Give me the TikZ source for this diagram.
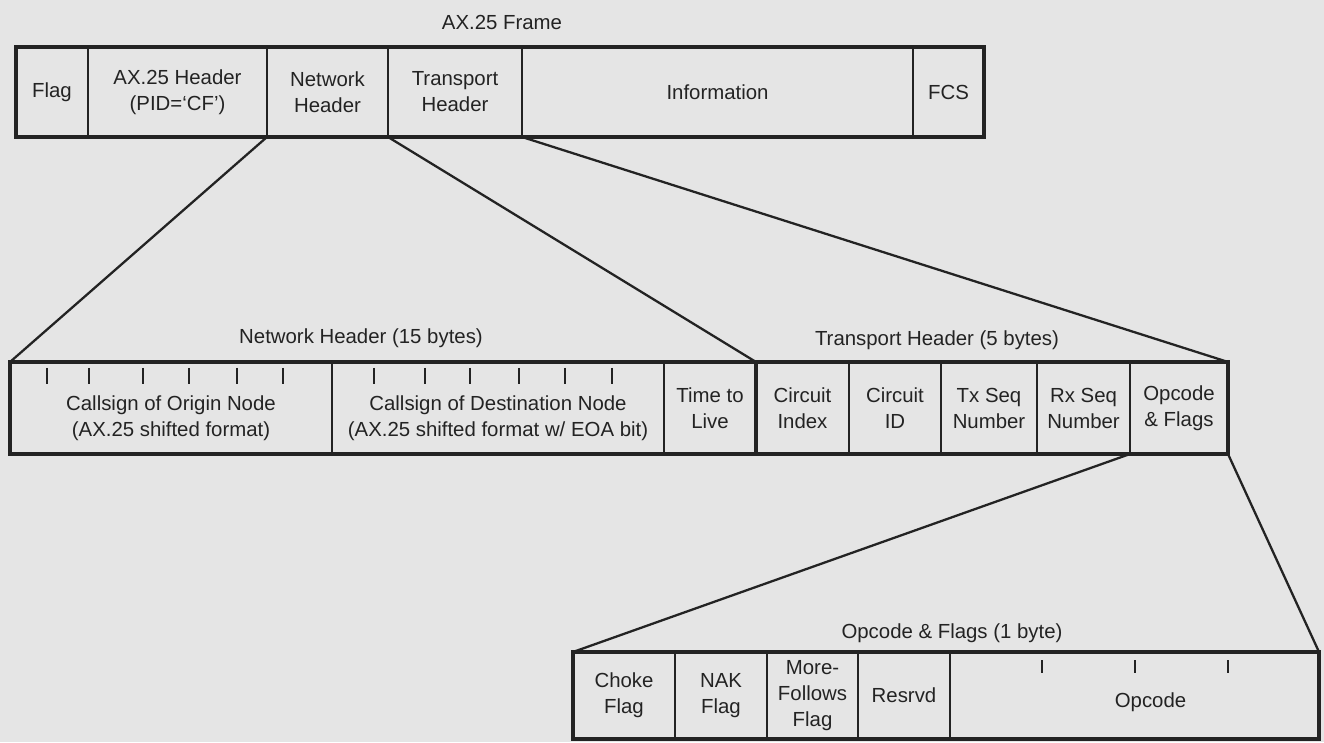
\documentclass[tikz,border=0pt]{standalone}
\usepackage{fontspec}
\setmainfont{Liberation Sans}
\usetikzlibrary{positioning,calc}
\definecolor{ScanGray}{RGB}{229,229,229}
\definecolor{InkBlack}{RGB}{35,35,35}
\tikzset{
  field/.style={draw=InkBlack,line width=1.1pt,anchor=south west,inner sep=0pt,
    outer sep=0pt,align=center,text=InkBlack},
  toprow/.style={field,minimum height=1.80cm},
  midrow/.style={field,minimum height=1.84cm},
  botrow/.style={field,minimum height=1.74cm},
  outline/.style={draw=InkBlack,line width=2.2pt},
  zoomline/.style={draw=InkBlack,line width=1.3pt},
  tick/.style={draw=InkBlack,line width=1.1pt},
  title/.style={text=InkBlack,inner sep=0pt},
}
\newcommand{\lowline}[2][6pt]{\raisebox{-#1}[\height][\depth]{#2}}

\begin{document}
\begin{tikzpicture}[font=\fontsize{11.6}{14.8}\selectfont]
\path[use as bounding box,fill=ScanGray] (0,0) rectangle (26.48,14.84);
% AX.25 frame
\node[title] (frametitle) at (10.04,14.40) {AX.25 Frame};
\node[toprow,minimum width=1.44cm] (flag) at (0.32,12.10) {Flag};
\node[toprow,minimum width=3.58cm] (axhdr) at (1.76,12.10) {AX.25 Header\\(PID=‘CF’)};
\node[toprow,minimum width=2.42cm] (nethdr) at (5.34,12.10) {Network\\Header};
\node[toprow,minimum width=2.68cm] (trnhdr) at (7.76,12.10) {Transport\\Header};
\node[toprow,minimum width=7.82cm] (info) at (10.44,12.10) {Information};
\node[toprow,minimum width=1.42cm] (fcs) at (18.26,12.10) {FCS};
\draw[outline] (flag.north west) rectangle (fcs.south east);
% network and transport headers
\node[title] (nettitle) at (7.22,8.08) {Network Header (15 bytes)};
\node[title] (trntitle) at (18.74,8.04) {Transport Header (5 bytes)};
\node[midrow,minimum width=6.44cm] (origin) at (0.20,5.76)
  {\lowline{Callsign of Origin Node}\\\lowline{(AX.25 shifted format)}};
\node[midrow,minimum width=6.64cm] (dest) at (6.64,5.76)
  {\lowline{Callsign of Destination Node}\\\lowline{(AX.25 shifted format w/ EOA bit)}};
\node[midrow,minimum width=1.84cm] (ttl) at (13.28,5.76) {Time to\\Live};
\node[midrow,minimum width=1.86cm] (cindex) at (15.12,5.76) {Circuit\\Index};
\node[midrow,minimum width=1.84cm] (cid) at (16.98,5.76) {Circuit\\ID};
\node[midrow,minimum width=1.92cm] (txseq) at (18.82,5.76) {Tx Seq\\Number};
\node[midrow,minimum width=1.86cm] (rxseq) at (20.74,5.76) {Rx Seq\\Number};
\node[midrow,minimum width=1.96cm] (opflags) at (22.60,5.76) {Opcode\\\& Flags};
\draw[outline] (origin.north west) rectangle (ttl.south east);
\draw[outline] (cindex.north west) rectangle (opflags.south east);
\foreach \x in {0.94,1.78,2.86,3.78,4.74,5.66,7.48,8.50,9.40,10.38,11.30,12.24}
  \draw[tick] (\x,7.48) -- (\x,7.16);
% opcode and flags byte
\node[title] (optitle) at (19.04,2.18) {Opcode \& Flags (1 byte)};
\node[botrow,minimum width=2.04cm] (choke) at (11.46,0.06) {Choke\\Flag};
\node[botrow,minimum width=1.84cm] (nak) at (13.50,0.06) {NAK\\Flag};
\node[botrow,minimum width=1.82cm] (morefol) at (15.34,0.06) {More-\\Follows\\Flag};
\node[botrow,minimum width=1.84cm] (resrvd) at (17.16,0.06) {Resrvd};
\node[botrow,minimum width=7.38cm] (opcode) at (19.00,0.06)
  {\hspace*{0.64cm}\lowline[4pt]{Opcode}};
\draw[outline] (choke.north west) rectangle (opcode.south east);
\foreach \x in {20.84,22.70,24.56}
  \draw[tick] (\x,1.64) -- (\x,1.38);
% zoom lines
\draw[zoomline] (nethdr.south west) -- (origin.north west);
\draw[zoomline] (nethdr.south east) -- (ttl.north east);
\draw[zoomline] (trnhdr.south east) -- (opflags.north east);
\draw[zoomline] (opflags.south west) -- (choke.north west);
\draw[zoomline] (opflags.south east) -- (opcode.north east);
\end{tikzpicture}
\end{document}
